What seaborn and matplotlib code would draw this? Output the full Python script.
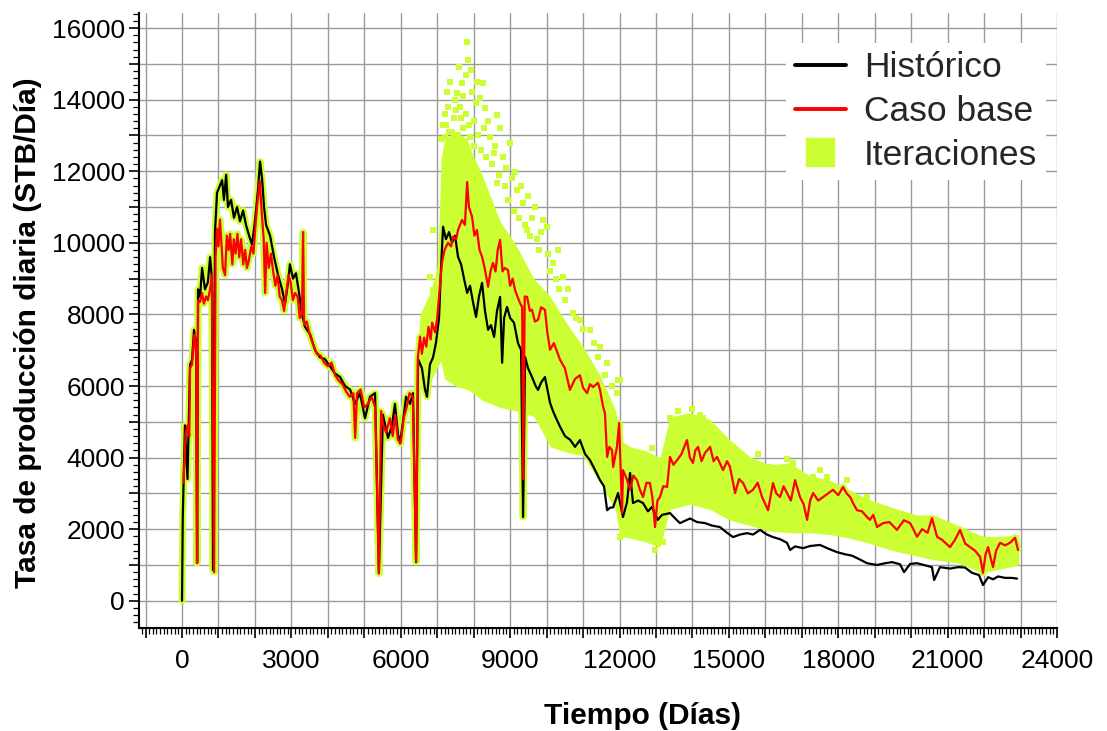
import numpy as np
import pandas as pd
import seaborn as sns
import matplotlib
matplotlib.use("Agg")
import matplotlib.pyplot as plt
from matplotlib.ticker import MultipleLocator, FuncFormatter
from matplotlib.lines import Line2D

# ---------------- data ----------------
hist_days = [0, 20, 60, 80, 150, 220, 275, 330, 385, 415, 440, 495, 550, 630, 710, 770, 820, 850,
             905, 960, 1040, 1100, 1150, 1210, 1260, 1345, 1425, 1510, 1590, 1675, 1755, 1840, 1920,
             2000, 2085, 2140, 2195, 2250, 2305, 2415, 2525, 2635, 2745, 2825, 2910, 2960, 3045, 3125,
             3210, 3290, 3375, 3510, 3650, 3785, 3920, 4060, 4195, 4335, 4470, 4610, 4745, 4880, 5020,
             5155, 5295, 5400, 5510, 5650, 5760, 5840, 5925, 5980, 6060, 6145, 6255, 6335, 6420, 6475,
             6580, 6665, 6720, 6800, 6885, 6965, 7050, 7105, 7160, 7240, 7325, 7405, 7490, 7570, 7655,
             7735, 7820, 7900, 7980, 8065, 8145, 8230, 8310, 8395, 8475, 8560, 8640, 8725, 8780, 8835,
             8915, 9000, 9105, 9215, 9300, 9355, 9410, 9490, 9600, 9700, 9765, 9850, 9955, 10095, 10175,
             10260, 10370, 10505, 10645, 10780, 10915, 11055, 11190, 11330, 11465, 11575, 11660, 11740,
             11825, 11960, 12095, 12205, 12290, 12370, 12510, 12645, 12780, 12890, 13050, 13165, 13385,
             13575, 13660, 13935, 14125, 14345, 14540, 14755, 14950, 15115, 15305, 15500, 15660, 15855,
             16045, 16210, 16405, 16595, 16680, 16815, 17035, 17225, 17500, 17720, 17965, 18185, 18380,
             18600, 18790, 19065, 19285, 19475, 19695, 19805, 19970, 20160, 20380, 20570, 20630, 20790,
             21065, 21285, 21475, 21670, 21860, 21970, 22110, 22245, 22385, 22575, 22765, 22905]
hist_rate = [0, 2300, 4000, 4900, 3400, 6590, 6730, 7570, 7200, 1060, 8700, 8500, 9300, 8700, 8900, 9600, 9000, 860,
             10300, 11400, 11600, 11750, 11200, 11900, 11000, 11200, 10700, 11000, 10600, 10900, 10500, 10200, 9950,
             10600, 11500, 12270, 11800, 11000, 10500, 10200, 9600, 9100, 8700, 8300, 8900, 9400, 9000, 9150,
             8600, 8000, 7650, 7450, 7000, 6800, 6750, 6550, 6350, 6250, 6000, 5900, 5500, 5800, 5100,
             5700, 5800, 780, 5200, 4550, 4900, 5500, 4650, 4400, 5000, 5700, 5500, 5800, 1080, 6750,
             6500, 5900, 5700, 6600, 6800, 7200, 7900, 9300, 10450, 10100, 10300, 10000, 10200, 9610, 9400,
             9000, 8600, 8800, 8350, 7930, 8500, 8880, 8100, 7570, 7700, 7370, 8100, 8490, 6650, 7900,
             8210, 7900, 7770, 7200, 7010, 2340, 6810, 6500, 6250, 6000, 5890, 6100, 6250, 5530, 5300,
             5100, 4860, 4600, 4500, 4300, 4490, 4100, 3930, 3650, 3370, 3200, 2530, 2600,
             2610, 3010, 2340, 2750, 3570, 2730, 2800, 2730, 2500, 2620, 2260, 2400, 2450,
             2250, 2170, 2300, 2200, 2170, 2100, 2060, 1900, 1780, 1850, 1890, 1850, 1980,
             1850, 1780, 1720, 1620, 1420, 1520, 1470, 1530, 1560, 1460, 1360, 1300, 1260,
             1150, 1050, 1000, 1050, 1080, 1020, 800, 1030, 1050, 990, 940, 580, 940,
             900, 940, 930, 780, 720, 440, 660, 600, 680, 640, 640, 620]

base_days = [40, 100, 150, 200, 220, 275, 320, 350, 390, 410, 440, 495, 550, 600, 660, 710, 770, 820, 880,
             920, 960, 1000, 1040, 1080, 1120, 1180, 1230, 1280, 1320, 1380, 1420, 1470, 1520, 1570, 1620,
             1680, 1730, 1780, 1830, 1900, 1960, 2020, 2080, 2130, 2180, 2240, 2280, 2320, 2380, 2440, 2500,
             2560, 2620, 2680, 2740, 2800, 2860, 2920, 2980, 3040, 3100, 3170, 3230, 3290, 3320, 3350, 3420,
             3500, 3600, 3700, 3800, 3900, 4000, 4100, 4200, 4300, 4400, 4500, 4600, 4700, 4750, 4800, 4900,
             5000, 5100, 5200, 5300, 5400, 5460, 5520, 5600, 5700, 5780, 5850, 5920, 6000, 6080, 6160, 6240,
             6330, 6420, 6470, 6530, 6580, 6640, 6700, 6760, 6820, 6860, 6940, 6995, 7050, 7130, 7200, 7295,
             7380, 7435, 7520, 7570, 7680, 7760, 7820, 7870, 7955, 8020, 8090, 8160, 8230, 8300, 8395, 8460,
             8530, 8600, 8660, 8725, 8790, 8850, 8940, 9000, 9070, 9135, 9200, 9270, 9330, 9360, 9400, 9465,
             9540, 9600, 9680, 9765, 9850, 9955, 10020, 10095, 10200, 10370, 10500, 10640, 10780, 10915, 11000,
             11110, 11190, 11275, 11410, 11465, 11550, 11600, 11660, 11720, 11795, 11825, 11930, 11990, 12070,
             12095, 12200, 12290, 12380, 12480, 12560, 12645, 12740, 12835, 12900, 12975, 13040, 13110, 13200,
             13305, 13385, 13480, 13580, 13700, 13850, 13930, 14015, 14080, 14155, 14250, 14345, 14485, 14580,
             14675, 14840, 14950, 15030, 15170, 15280, 15390, 15520, 15660, 15790, 15910, 16075, 16210, 16300,
             16405, 16500, 16595, 16700, 16815, 16950, 17050, 17145, 17230, 17310, 17450, 17585, 17720, 17855,
             18000, 18130, 18230, 18325, 18420, 18515, 18650, 18790, 18870, 18960, 19065, 19230, 19400, 19610,
             19800, 19970, 20060, 20160, 20300, 20450, 20570, 20710, 20850, 21065, 21200, 21340, 21480, 21615,
             21750, 21890, 21970, 22040, 22110, 22180, 22245, 22330, 22440, 22580, 22710, 22850, 22930]
base_rate = [3300, 4700, 4900, 4600, 6500, 6600, 7250, 7450, 6800, 1050, 8400, 8350, 8600, 8300, 8500, 8400, 8700, 9100, 800,
             9600, 10400, 9900, 10650, 10000, 9300, 9100, 10200, 9800, 10250, 9400, 10100, 9700, 10250, 9600, 10100,
             9400, 9800, 9300, 9500, 9900, 9700, 10550, 11250, 11750, 10950, 10100, 8600, 10000, 9300, 9700, 9200,
             8800, 9100, 8500, 8400, 8100, 8600, 9100, 8900, 8400, 8600, 8500, 7900, 8000, 10300, 7700, 7800,
             7450, 7150, 6900, 6850, 6650, 6550, 6650, 6300, 6150, 6050, 5850, 5700, 5800, 4550, 5800, 5900,
             5400, 5500, 5700, 5400, 760, 5300, 4900, 4700, 5100, 4600, 5200, 4500, 4400, 5100, 5400, 5800,
             5700, 1100, 6800, 7380, 6900, 7350, 7100, 7650, 7300, 7770, 7500, 7850, 8500, 9440, 9800, 10000,
             9900, 10170, 10100, 10360, 10640, 10500, 11700, 11000, 10730, 10200, 10360, 9800, 9610, 9300, 8770, 9200,
             9440, 9200, 9800, 10080, 9200, 9300, 9240, 8800, 9000, 8680, 8500, 8320, 8200, 3400, 8500, 8490,
             8100, 8130, 7800, 7850, 8200, 8130, 7500, 7010, 7200, 6730, 6500, 5890, 6200, 6300, 5950,
             5800, 6050, 5970, 6090, 5890, 5420, 5240, 4020, 4300, 4210, 3740, 4300, 4970, 2450,
             3650, 3400, 3100, 3500, 3370, 3100, 2900, 3300, 3290, 2900, 2060, 2800, 2900, 3200,
             3180, 4020, 3800, 3930, 4100, 4490, 4000, 3850, 4200, 4300, 3900, 4130, 4300, 3900,
             4020, 3650, 3900, 3740, 3010, 3400, 3290, 3000, 3100, 3300, 2900, 2530, 3290, 3000,
             2900, 3200, 3010, 2800, 3370, 2900, 2700, 2260, 2800, 3010, 2800, 2900, 3000, 3100,
             2950, 3180, 3000, 2900, 2700, 2530, 2500, 2340, 2260, 2400, 2060, 2170, 2200, 1980,
             2250, 2170, 2000, 1790, 2000, 1900, 2310, 1790, 1700, 1500, 1700, 1980, 1600, 1500,
             1400, 1230, 780, 1300, 1500, 1200, 940, 1400, 1620, 1550, 1620, 1760, 1420]

# envelope of the dense iteration cloud
iter_days = [6450, 6530, 6800, 7000, 7050, 7100, 7200, 7500, 7820, 8000, 8230, 8725, 9180, 9650, 10100,
             10550, 11000, 11465, 11900, 12000, 12300, 12700, 13110, 13385, 13935, 14485, 15030, 15580,
             16100, 16680, 17200, 17775, 18300, 18870, 19500, 20160, 20600, 21300, 21970, 22500, 22950]
iter_high = [6900, 8000, 8600, 9300, 10500, 12300, 12900, 13100, 12900, 12400, 11900, 10600, 9900, 9000, 8500,
             7750, 7100, 6300, 5300, 4500, 4300, 4200, 4000, 5140, 5250, 5060, 4490, 4020,
             3800, 3850, 3500, 3370, 3100, 2820, 2600, 2400, 2400, 2100, 1800, 1800, 1850]
iter_low = [5500, 5900, 6100, 6500, 6600, 6700, 6200, 6000, 5900, 5800, 5600, 5400, 5300, 5150, 4300,
            4150, 4050, 3300, 2500, 1800, 1750, 1650, 1500, 2550, 2700, 2550, 2250, 2100,
            1950, 1900, 1900, 1850, 1750, 1600, 1400, 1250, 1150, 1050, 780, 900, 1000]

# scattered iteration points outside the dense cloud
iter_pt_days = [7820, 7850, 7925, 7350, 7680, 8090, 8260, 7545, 8175, 7300, 7625, 8310, 8640, 8725, 8450,
                9000, 7215, 7900, 9135, 8640, 9355, 9685, 9900, 9190, 9465, 10010, 10175, 10450, 10725,
                10915, 11190, 11465, 11660, 11960, 6800, 6885, 6885, 12015, 11930, 12890, 13385, 13850,
                14210, 14300, 14755, 15390, 16130, 16405, 16760, 17310, 17690, 18240, 18790, 12015, 12975,
                7250, 7450, 7700, 8900, 9300, 9500, 7400, 8000, 8550, 9750, 10300,
                7100, 7150, 7200, 7260, 7330, 7400, 7480, 7520, 7580, 7600, 7650, 7700, 7750, 7780, 7800,
                7880, 7950, 8000, 8050, 8120, 8200, 8280, 8350, 8400, 8500, 8580, 8700, 8800, 8850, 8950,
                9050, 9100, 9250, 9400, 9550, 9600, 9800, 9850, 10050, 10100, 10250, 10350, 10500, 10600,
                10800, 11000, 11300, 11400, 11600, 11800, 13600, 14000, 14600, 15100, 15800, 16600, 17500,
                12300, 12600, 13200]
iter_pt_rate = [15620, 15110, 14830, 14500, 14470, 14500, 14470, 14190, 14050, 13800, 13800, 13770, 13570, 13210, 12960,
                12790, 12960, 12960, 11980, 11670, 11110, 11000, 10640, 11480, 10360, 10450, 9440, 9050, 8040,
                7850, 7570, 7090, 6640, 6170, 9050, 10360, 8690, 6170, 5800, 4270, 5110, 5140,
                5190, 5110, 4580, 3990, 3740, 3650, 3850, 3460, 3460, 3370, 2900, 1780, 1420,
                13300, 13500, 13200, 12100, 11600, 11300, 13100, 13400, 12500, 10100, 9800,
                12900, 13300, 13600, 14200, 13100, 12800, 14000, 13700, 13000, 14900, 13500, 14100, 12800, 14700, 13600,
                13300, 14200, 12700, 13900, 13000, 12600, 13200, 12400, 13400, 12200, 12700, 11900, 12400, 11600, 11200,
                11800, 10900, 10700, 10500, 10200, 10700, 9800, 10300, 9700, 9200, 9000, 8700, 8400, 8700,
                7900, 7600, 7200, 6800, 6300, 6000, 5300, 5350, 4800, 4300, 4100, 3950, 3650,
                1850, 1750, 1650]

legend_labels = ["Histórico", "Caso base", "Iteraciones"]
x_label = "Tiempo (Días)"
y_label = "Tasa de producción diaria (STB/Día)"

YELLOW = "#ccff33"

# ---------------- figure ----------------
sns.set_theme(style="white")
plt.rcParams["font.family"] = ["Liberation Sans", "DejaVu Sans"]

fig = plt.figure(figsize=(11.07, 7.31), dpi=100)
ax = fig.add_axes([139 / 1107, 1 - 628 / 731, (1057 - 139) / 1107, (628 - 13) / 731])

hist = pd.DataFrame({"day": hist_days, "rate": hist_rate})
base = pd.DataFrame({"day": base_days, "rate": base_rate})
pts = pd.DataFrame({"day": iter_pt_days, "rate": iter_pt_rate})

# iterations: dense band + scattered points + halo around simulated curves
ax.fill_between(iter_days, iter_low, iter_high, color=YELLOW, lw=0, zorder=1)
sns.scatterplot(data=pts, x="day", y="rate", marker="s", s=18, color=YELLOW, linewidth=0,
                ax=ax, zorder=2, legend=False)
sns.lineplot(data=base, x="day", y="rate", color=YELLOW, lw=5, sort=False, ax=ax, zorder=2,
             legend=False, estimator=None)
early = hist[hist["day"] < 9500]
sns.lineplot(data=early, x="day", y="rate", color=YELLOW, lw=5, sort=False, ax=ax, zorder=2,
             legend=False, estimator=None)

sns.lineplot(data=hist, x="day", y="rate", color="black", lw=1.6, sort=False, ax=ax, zorder=3,
             legend=False, estimator=None)
sns.lineplot(data=base, x="day", y="rate", color="#ff0000", lw=1.6, sort=False, ax=ax, zorder=4,
             legend=False, estimator=None)

ax.set_xlim(-1180, 24000)
ax.set_ylim(-760, 16420)

ax.xaxis.set_major_locator(MultipleLocator(1000))
ax.xaxis.set_minor_locator(MultipleLocator(100))
ax.yaxis.set_major_locator(MultipleLocator(1000))
ax.yaxis.set_minor_locator(MultipleLocator(200))
ax.xaxis.set_major_formatter(FuncFormatter(lambda v, p: f"{int(round(v))}" if round(v) % 3000 == 0 and v >= 0 else ""))
ax.yaxis.set_major_formatter(FuncFormatter(lambda v, p: f"{int(round(v))}" if round(v) % 2000 == 0 and v >= 0 else ""))

ax.tick_params(axis="both", which="major", direction="out", length=7, width=1.2, color="black",
               labelsize=19, labelcolor="black")
ax.tick_params(axis="both", which="minor", direction="out", length=4, width=0.9, color="black")
ax.tick_params(axis="x", which="both", bottom=True, pad=8)
ax.tick_params(axis="y", which="both", left=True, pad=3)

ax.grid(True, which="major", color="#9a9a9a", lw=1.0, zorder=0)
ax.set_axisbelow(True)
for s in ["top", "right"]:
    ax.spines[s].set_visible(False)
for s in ["left", "bottom"]:
    ax.spines[s].set_color("black")
    ax.spines[s].set_linewidth(1.5)

ax.set_xlabel(x_label, fontsize=21.5, fontweight="bold", color="black")
ax.set_ylabel(y_label, fontsize=21.5, fontweight="bold", color="black")
ax.xaxis.set_label_coords((642 - 139) / 918, -(702 - 628) / 615)
ax.yaxis.set_label_coords((42 - 139) / 918, 1 - (333 - 13) / 615)

handles = [Line2D([], [], color="black", lw=2.8),
           Line2D([], [], color="#ff0000", lw=2.8),
           Line2D([], [], color=YELLOW, marker="s", markersize=20, lw=0)]
leg = ax.legend(handles, legend_labels, loc="upper right", bbox_to_anchor=(0.988, 0.952),
                fontsize=25.5, frameon=True, facecolor="white", edgecolor="none", framealpha=1,
                fancybox=False, handlelength=1.45, handletextpad=0.5, labelspacing=0.3,
                borderpad=0.25, borderaxespad=0)
leg.set_zorder(10)

fig.savefig("out.png", dpi=100)
